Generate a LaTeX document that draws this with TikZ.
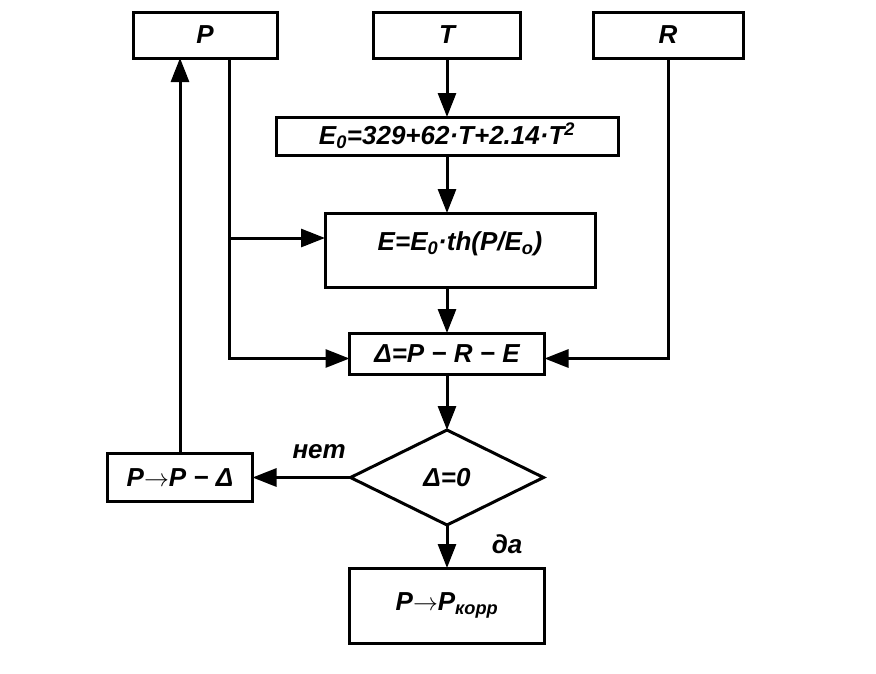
\documentclass[tikz,border=0pt]{standalone}
\usepackage{fontspec}
\setmainfont{Liberation Sans}
\usetikzlibrary{arrows.meta,positioning,shapes.geometric,calc}
\tikzset{
  lbl/.style={font=\bfseries\itshape\fontsize{26}{30}\selectfont},
  blk/.style={draw,line width=3pt,inner sep=0pt,outer sep=0pt,lbl},
  cond/.style={blk,diamond,aspect=2},
  flow/.style={line width=3pt,->},
}
\begin{document}
\begin{tikzpicture}[x=1pt,y=-1pt,>={Triangle[width=18pt,length=24pt]}]
  \useasboundingbox (0,0) rectangle (876,673);
  \node (P) [blk,minimum width=144pt,minimum height=46pt] at (205,35) {P};
  \node (T) [blk,minimum width=147pt,minimum height=46pt] at (447,35) {T};
  \node (R) [blk,minimum width=150pt,minimum height=46pt] at (668,35) {R};
  \node (En) [blk,below=59pt of T,minimum width=342pt,minimum height=38pt]
    {E\textsubscript{0}=329+62·T+2.14·T\textsuperscript{2}};
  \node (E) [blk,below=58pt of En,xshift=13pt,minimum width=270pt,minimum height=74pt,text depth=18pt]
    {E=E\textsubscript{0}·th(P/E\textsubscript{o})};
  \node (Dl) [blk,below=46pt of E,xshift=-13pt,minimum width=195pt,minimum height=41pt]
    {Δ=P − R − E};
  \node (chk) [cond,below=56pt of Dl,minimum width=193pt,minimum height=95pt] {Δ=0};
  \node (Pk) [blk,below=43pt of chk,minimum width=195pt,minimum height=75pt]
    {P\(\rightarrow\)P\textsubscript{корр}};
  \node (PmD) [blk,left=98pt of chk,minimum width=145pt,minimum height=48pt] {P\(\rightarrow\)P − Δ};
  \coordinate (Pd) at ([xshift=24pt]P.south);
  \coordinate (Ein) at ([yshift=12pt]E.west);
  \coordinate (Din) at ([yshift=-5pt]Dl.west);
  \coordinate (Rin) at ([yshift=-5pt]Dl.east);
  \draw[flow] (T) -- (En);
  \draw[flow] (En.south) -- (En.south |- E.north);
  \draw[flow] (Dl.north |- E.south) -- (Dl.north);
  \draw[flow] (Pd) |- (Din);
  \draw[flow] (Pd |- Ein) -- (Ein);
  \draw[flow] (R.south) |- (Rin);
  \draw[flow] (Dl) -- (chk);
  \draw[flow] (chk) -- (Pk) node[pos=0.45,right=40pt,lbl] {да};
  \draw[flow] (chk.west) -- (PmD.east) node[pos=0.32,above=14pt,lbl] {нет};
  \draw[flow] (PmD.north) -- (PmD.north |- P.south);
\end{tikzpicture}
\end{document}
